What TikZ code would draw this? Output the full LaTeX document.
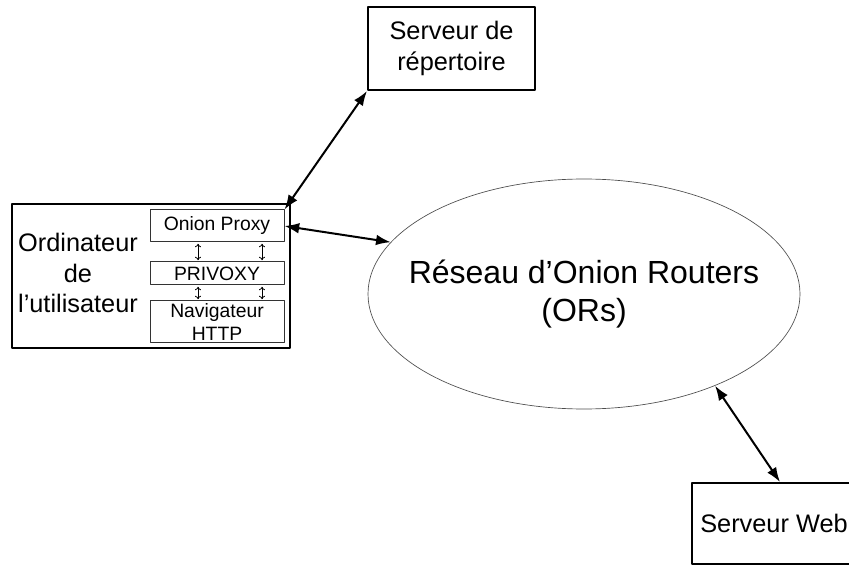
\documentclass[tikz,border=0pt]{standalone}
\usepackage{fontspec}
\setmainfont{Liberation Sans}
\usetikzlibrary{arrows,arrows.meta}
\usetikzlibrary{shapes.geometric}

\tikzset{
  texte/.style={inner sep=0pt,align=center,font=\fontsize{19}{23}\selectfont},
  grandboite/.style={texte,draw,line width=1.5pt},
  petiteboite/.style={draw=black!80,line width=0.75pt,inner sep=0pt,minimum width=100.5pt,align=center,font=\fontsize{14.5}{17}\selectfont},
  grandefleche/.style={{Latex[length=11pt,width=8pt]}-{Latex[length=11pt,width=8pt]},line width=1.5pt},
  petitefleche/.style={{To[length=2.5pt,width=4.5pt]}-{To[length=2.5pt,width=4.5pt]},line width=0.6pt,shorten >=1pt,shorten <=1pt},
}

\begin{document}
\begin{tikzpicture}[line cap=round,line join=round,x=0.75pt,y=-0.75pt]
\clip (0,0) rectangle (849,566);
% serveurs
\node[grandboite,minimum width=125.25pt,minimum height=62.25pt] (repertoire) at (451.5,48.5) {Serveur de\\répertoire};
\node[grandboite,minimum width=123pt,minimum height=60.75pt] (web) at (774,523.5) {Serveur Web};
% poste client
\node[grandboite,minimum width=208.5pt,minimum height=108pt] (ordi) at (151,276) {};
\node[texte] (ordinom) at (78,273) {Ordinateur\\de\\l’utilisateur};
\node[petiteboite,minimum height=24pt] (proxy) at (217,226) {Onion Proxy};
\node[petiteboite,minimum height=17.25pt] (privoxy) at (217,273.5) {PRIVOXY};
\node[petiteboite,minimum height=31.5pt] (nav) at (217,322) {Navigateur\\HTTP};
\foreach \dx in {-14.25pt,33.75pt} {
  \draw[petitefleche] ([xshift=\dx]proxy.south) -- ([xshift=\dx]privoxy.north);
  \draw[petitefleche] ([xshift=\dx]privoxy.south) -- ([xshift=\dx]nav.north);
}
% reseau
\node[draw=black!70,line width=0.5pt,ellipse,inner sep=0pt,minimum width=324pt,minimum height=172.5pt] (reseau) at (584,294) {};
\node[align=center,font=\fontsize{24}{28}\selectfont] (reseaunom) at (584,294) {Réseau d’Onion Routers\\(ORs)};
% liaisons
\draw[grandefleche] (proxy.north east) -- (repertoire.south west);
\draw[grandefleche] (proxy.east) -- (reseau.165);
\draw[grandefleche] (reseau.-35) -- ([xshift=4.5pt]web.north);
\end{tikzpicture}
\end{document}
